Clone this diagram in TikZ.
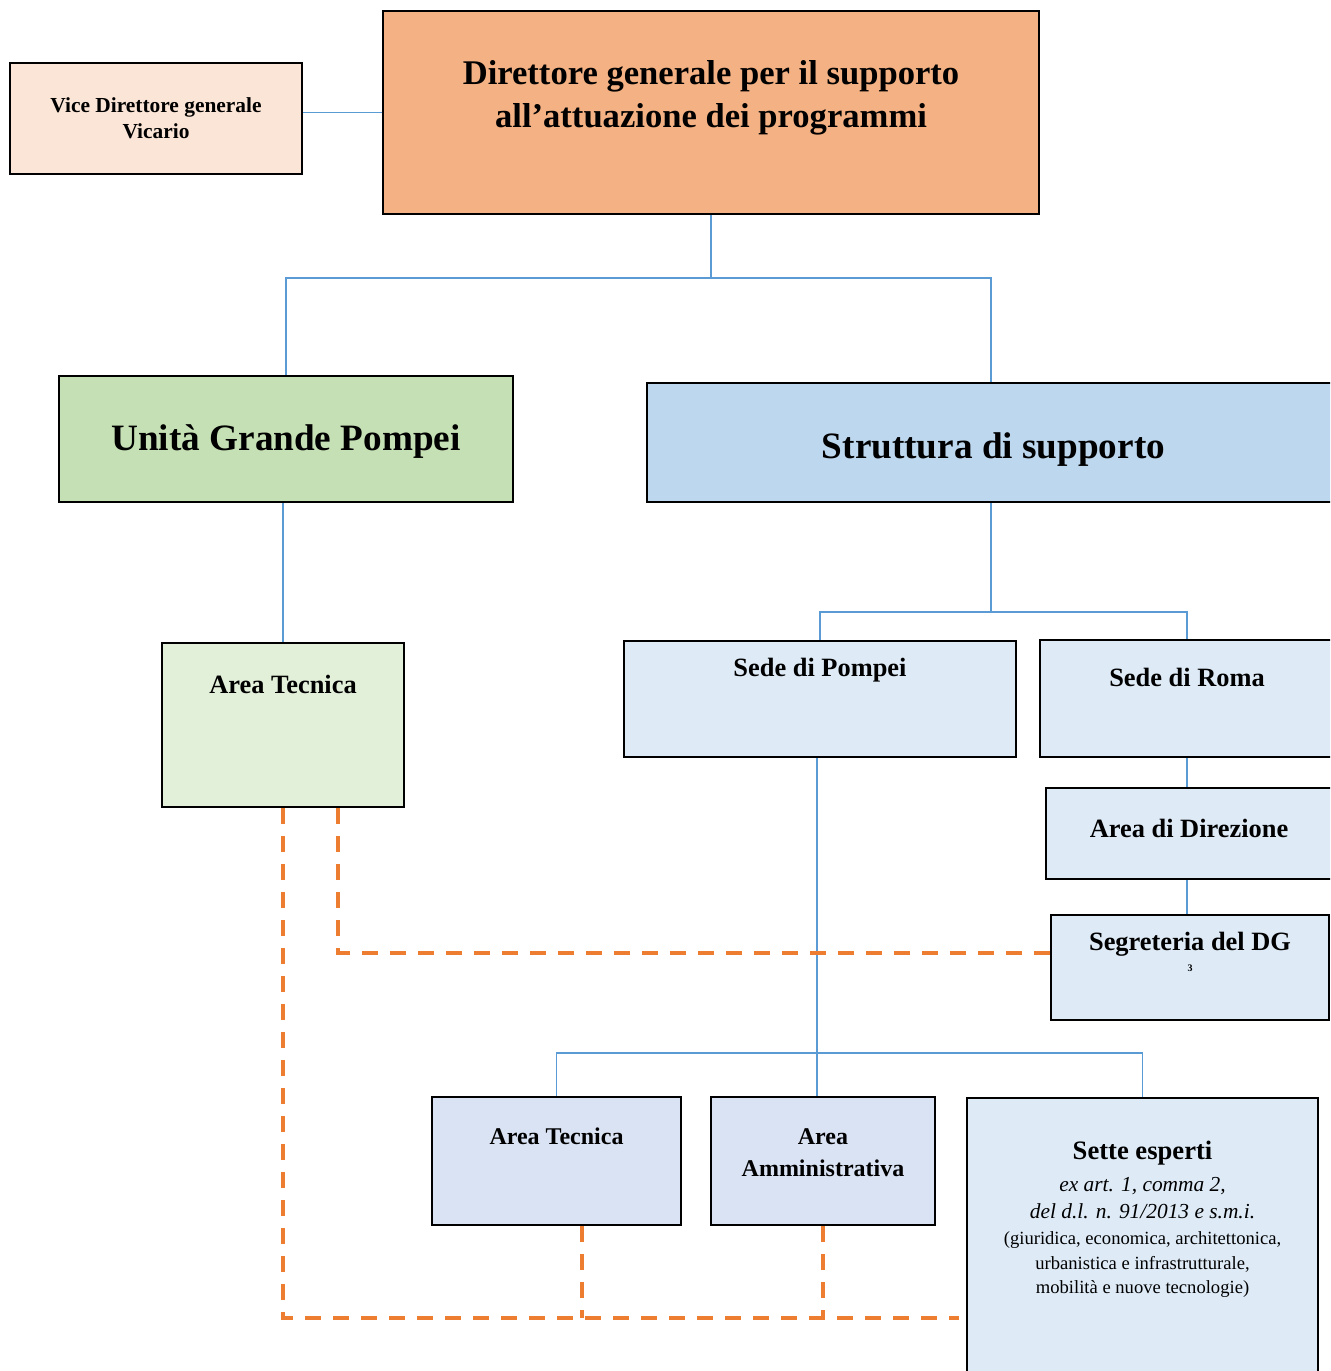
\documentclass[tikz,border=0pt]{standalone}
\usepackage{fontspec}
\setmainfont{Liberation Serif}
\usepackage{xcolor}
\usetikzlibrary{positioning,calc}

\definecolor{vicefill}{HTML}{FBE5D6}
\definecolor{dgfill}{HTML}{F4B183}
\definecolor{ugpfill}{HTML}{C5E0B4}
\definecolor{sdsfill}{HTML}{BDD7EE}
\definecolor{greenfill}{HTML}{E2F0D9}
\definecolor{sedefill}{HTML}{DEEBF7}
\definecolor{areafill}{HTML}{DAE3F3}
\definecolor{linkblue}{HTML}{5B9BD5}
\definecolor{dashorange}{HTML}{ED7D31}

\begin{document}
\begin{tikzpicture}[
  x=0.5pt, y=-0.5pt,
  box/.style={rectangle, draw, line width=1.2pt, inner sep=0pt, align=center},
  head/.style={font=\bfseries\fontsize{13.2}{16}\selectfont, align=center, inner sep=0pt},
  small/.style={font=\bfseries\fontsize{12}{16}\selectfont, align=center, inner sep=0pt},
  big/.style={font=\bfseries\fontsize{18.6}{22}\selectfont, inner sep=0pt},
  link/.style={draw=linkblue, line width=0.7pt},
  dashlink/.style={draw=dashorange, line width=2pt, dash pattern=on 8pt off 6pt}
]
\clip (0,0) rectangle (1330,1371);

% Top level
\node[box, fill=vicefill, minimum width=146pt, minimum height=55.5pt,
  font=\bfseries\fontsize{10.7}{13}\selectfont] (vice) at (156,118.5) {Vice Direttore generale\\Vicario};
\node[box, fill=dgfill, minimum width=328pt, minimum height=101.5pt] (dg) at (711,112.5) {};
\node[align=center, inner sep=0pt, font=\bfseries\fontsize{17.3}{21.5}\selectfont,
  below=25pt of dg.north] (dgtext) {Direttore generale per il supporto\\all’attuazione dei programmi};

% Second level
\node[box, fill=ugpfill, minimum width=227pt, minimum height=63pt] (ugp) at (286,439) {};
\node[big] (ugptext) at ($(ugp.center)+(0,3)$) {Unità Grande Pompei};
\node[box, fill=sdsfill, minimum width=346.5pt, minimum height=59.5pt] (sds) at (993.5,442.5) {};
\node[big] (sdstext) at ($(sds.center)+(0,7)$) {Struttura di supporto};

% Third level
\node[box, fill=greenfill, minimum width=121pt, minimum height=82pt] (atg) at (283,725) {};
\node[head, below=16.5pt of atg.north] (atgtext) {Area Tecnica};
\node[box, fill=sedefill, minimum width=196pt, minimum height=58pt] (pompei) at (820,699) {};
\node[head, below=9pt of pompei.north] (pompeitext) {Sede di Pompei};
\node[box, fill=sedefill, minimum width=147pt, minimum height=58.5pt] (roma) at (1187,698.5) {};
\node[head, below=14.5pt of roma.north] (romatext) {Sede di Roma};
\node[box, fill=sedefill, minimum width=143pt, minimum height=45.5pt] (dir) at (1189,833.5) {};
\node[head, below=16pt of dir.north] (dirtext) {Area di Direzione};
\node[box, fill=sedefill, minimum width=139pt, minimum height=52.5pt] (seg) at (1190,967.5) {};
\node[head, below=9pt of seg.north] (segtext) {Segreteria del DG\\[-5.5pt]{\fontsize{5}{6}\selectfont 3}};

% Bottom level
\node[box, fill=areafill, minimum width=124.5pt, minimum height=64pt] (at2) at (556.5,1161) {};
\node[small, below=16pt of at2.north] (at2text) {Area Tecnica};
\node[box, fill=areafill, minimum width=112pt, minimum height=64pt] (amm) at (823,1161) {};
\node[small, below=16pt of amm.north] (ammtext) {Area\\Amministrativa};
\node[box, fill=sedefill, minimum width=175.5pt, minimum height=146pt] (sette) at (1142.5,1244) {};
\node[align=center, inner sep=0pt, font=\fontsize{9.3}{12.3}\selectfont,
  below=22pt of sette.north] (settetext)
  {{\bfseries\fontsize{13.3}{16}\selectfont Sette esperti}\\[3.5pt]
   {\itshape\fontsize{10.7}{14}\selectfont ex art. 1, comma 2,}\\[1.5pt]
   {\itshape\fontsize{10.7}{14}\selectfont del d.l. n. 91/2013 e s.m.i.}\\[0.6pt]
   (giuridica, economica, architettonica,\\
   urbanistica e infrastrutturale,\\
   mobilità e nuove tecnologie)};

% Lines
\coordinate (bus1) at (711,278);
\coordinate (bus2) at (991,612);
\coordinate (bus3) at (817,1053);
\coordinate (dbus) at (0,1318);
\draw[link] (dg.west) -- (dg.west -| vice.east);
\draw[link] (dg.south) -- (bus1);
\draw[link] (ugp.north) |- (bus1) -| (bus2 |- sds.north);
\draw[link] (atg.north |- ugp.south) -- (atg.north);
\draw[link] (sds.south -| bus2) -- (bus2);
\draw[link] (pompei.north) |- (bus2) -| (roma.north);
\draw[link] (roma.south) -- (roma.south |- dir.north);
\draw[link] (dir.south -| roma.south) -- (seg.north -| roma.south);
\draw[link] (pompei.south -| bus3) -- (amm.north -| bus3);
\draw[link] (at2.north) |- (bus3) -| (sette.north);

% Dashed links
\path ($(atg.south)+(55,0)$) coordinate (atgd);
\path ($(at2.south)+(25,0)$) coordinate (at2d);
\draw[dashlink] (atg.south) |- ($(sette.west |- dbus)+(-7,0)$);
\draw[dashlink] (atgd) |- ($(seg.west)+(0,-15)$);
\draw[dashlink] (at2d) -- (at2d |- dbus);
\draw[dashlink] (amm.south) -- (amm.south |- dbus);

\end{tikzpicture}
\end{document}
